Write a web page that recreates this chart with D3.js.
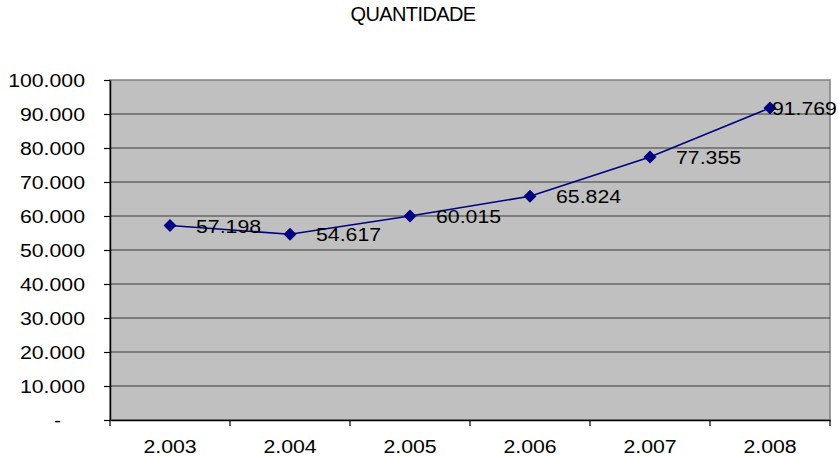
<!DOCTYPE html>
<html>
<head>
<meta charset="utf-8">
<script src="https://cdn.jsdelivr.net/npm/d3@7"></script>
<style>
  body { margin: 0; background: #fff; }
  text { font-family: Arial, "Liberation Sans", sans-serif; fill: #000; }
</style>
</head>
<body>
<div id="chart"></div>
<script>
const years = ["2.003", "2.004", "2.005", "2.006", "2.007", "2.008"];
const quantidade = [57198, 54617, 60015, 65824, 77355, 91769];
const yTicks = [0, 10000, 20000, 30000, 40000, 50000, 60000, 70000, 80000, 90000, 100000];

const width = 838, height = 456;
const plotLeft = 110, plotRight = 830, plotTop = 80, plotBottom = 420;
const stretch = 1.15;

const svg = d3.select("#chart").append("svg")
  .attr("width", width)
  .attr("height", height);

const x = d3.scaleBand().domain(years).range([plotLeft, plotRight]);
const y = d3.scaleLinear().domain([0, 100000]).range([plotBottom, plotTop]);

const fmt = v => v === 0 ? "-" : d3.format(",")(v).replace(/,/g, ".");

// title
svg.append("text")
  .attr("x", 413)
  .attr("y", 21)
  .attr("text-anchor", "middle")
  .style("font-size", "20px")
  .style("letter-spacing", "-0.6px")
  .text("QUANTIDADE");

// plot background
svg.append("rect")
  .attr("x", plotLeft).attr("y", plotTop)
  .attr("width", plotRight - plotLeft).attr("height", plotBottom - plotTop)
  .attr("fill", "#c0c0c0")
  .attr("stroke", "#808080")
  .attr("stroke-width", 1.5);

// gridlines
svg.append("g")
  .selectAll("line")
  .data(yTicks.filter(d => d > 0 && d < 100000))
  .enter().append("line")
  .attr("x1", plotLeft).attr("x2", plotRight)
  .attr("y1", d => y(d)).attr("y2", d => y(d))
  .attr("stroke", "#3a3a3a")
  .attr("stroke-width", 1.2);

// y axis
const yAxis = svg.append("g")
  .attr("transform", `translate(${plotLeft},0)`)
  .call(d3.axisLeft(y).tickValues(yTicks).tickSize(6).tickSizeOuter(0).tickFormat(fmt));
yAxis.select(".domain").attr("stroke", "#000").attr("stroke-width", 1.5);
yAxis.selectAll(".tick line").attr("stroke", "#000").attr("stroke-width", 1.2);
yAxis.selectAll(".tick text")
  .style("font-size", "18.5px")
  .attr("x", d => d === 0 ? -49 / stretch : -25 / stretch)
  .attr("dy", "0.35em")
  .attr("transform", `scale(${stretch},1)`);

// x axis
const xAxis = svg.append("g")
  .attr("transform", `translate(0,${plotBottom})`)
  .call(d3.axisBottom(x).tickSize(0).tickSizeOuter(0));
xAxis.select(".domain").attr("stroke", "#000").attr("stroke-width", 1.5);
xAxis.selectAll(".tick text")
  .style("font-size", "18.5px")
  .attr("y", 33.5)
  .attr("dy", 0)
  .attr("x", 0)
  .attr("transform", `scale(${stretch},1)`);

// category boundary ticks
svg.append("g")
  .selectAll("line")
  .data(years.map(d => x(d)).concat([plotRight]))
  .enter().append("line")
  .attr("x1", d => d).attr("x2", d => d)
  .attr("y1", plotBottom).attr("y2", plotBottom + 6)
  .attr("stroke", "#000")
  .attr("stroke-width", 1.2);

const cx = d => x(d) + x.bandwidth() / 2;

// line
svg.append("path")
  .datum(quantidade)
  .attr("fill", "none")
  .attr("stroke", "#000080")
  .attr("stroke-width", 1.6)
  .attr("d", d3.line().x((d, i) => cx(years[i])).y(d => y(d)));

// markers
svg.append("g")
  .selectAll("path")
  .data(quantidade)
  .enter().append("path")
  .attr("transform", (d, i) => `translate(${cx(years[i])},${y(d)})`)
  .attr("d", "M0,-6.5L6.5,0L0,6.5L-6.5,0Z")
  .attr("fill", "#000080");

// value labels
const labels = svg.append("g")
  .selectAll("text")
  .data(quantidade)
  .enter().append("text")
  .style("font-size", "18.5px")
  .attr("dy", "0.38em")
  .text(fmt);

labels.each(function (d, i) {
  const w = this.getComputedTextLength() * stretch;
  let lx = cx(years[i]) + 26;
  if (lx + w > width - 1) lx = width - 1 - w;
  d3.select(this)
    .attr("transform", `translate(${lx},${y(d)}) scale(${stretch},1)`);
});
</script>
</body>
</html>
